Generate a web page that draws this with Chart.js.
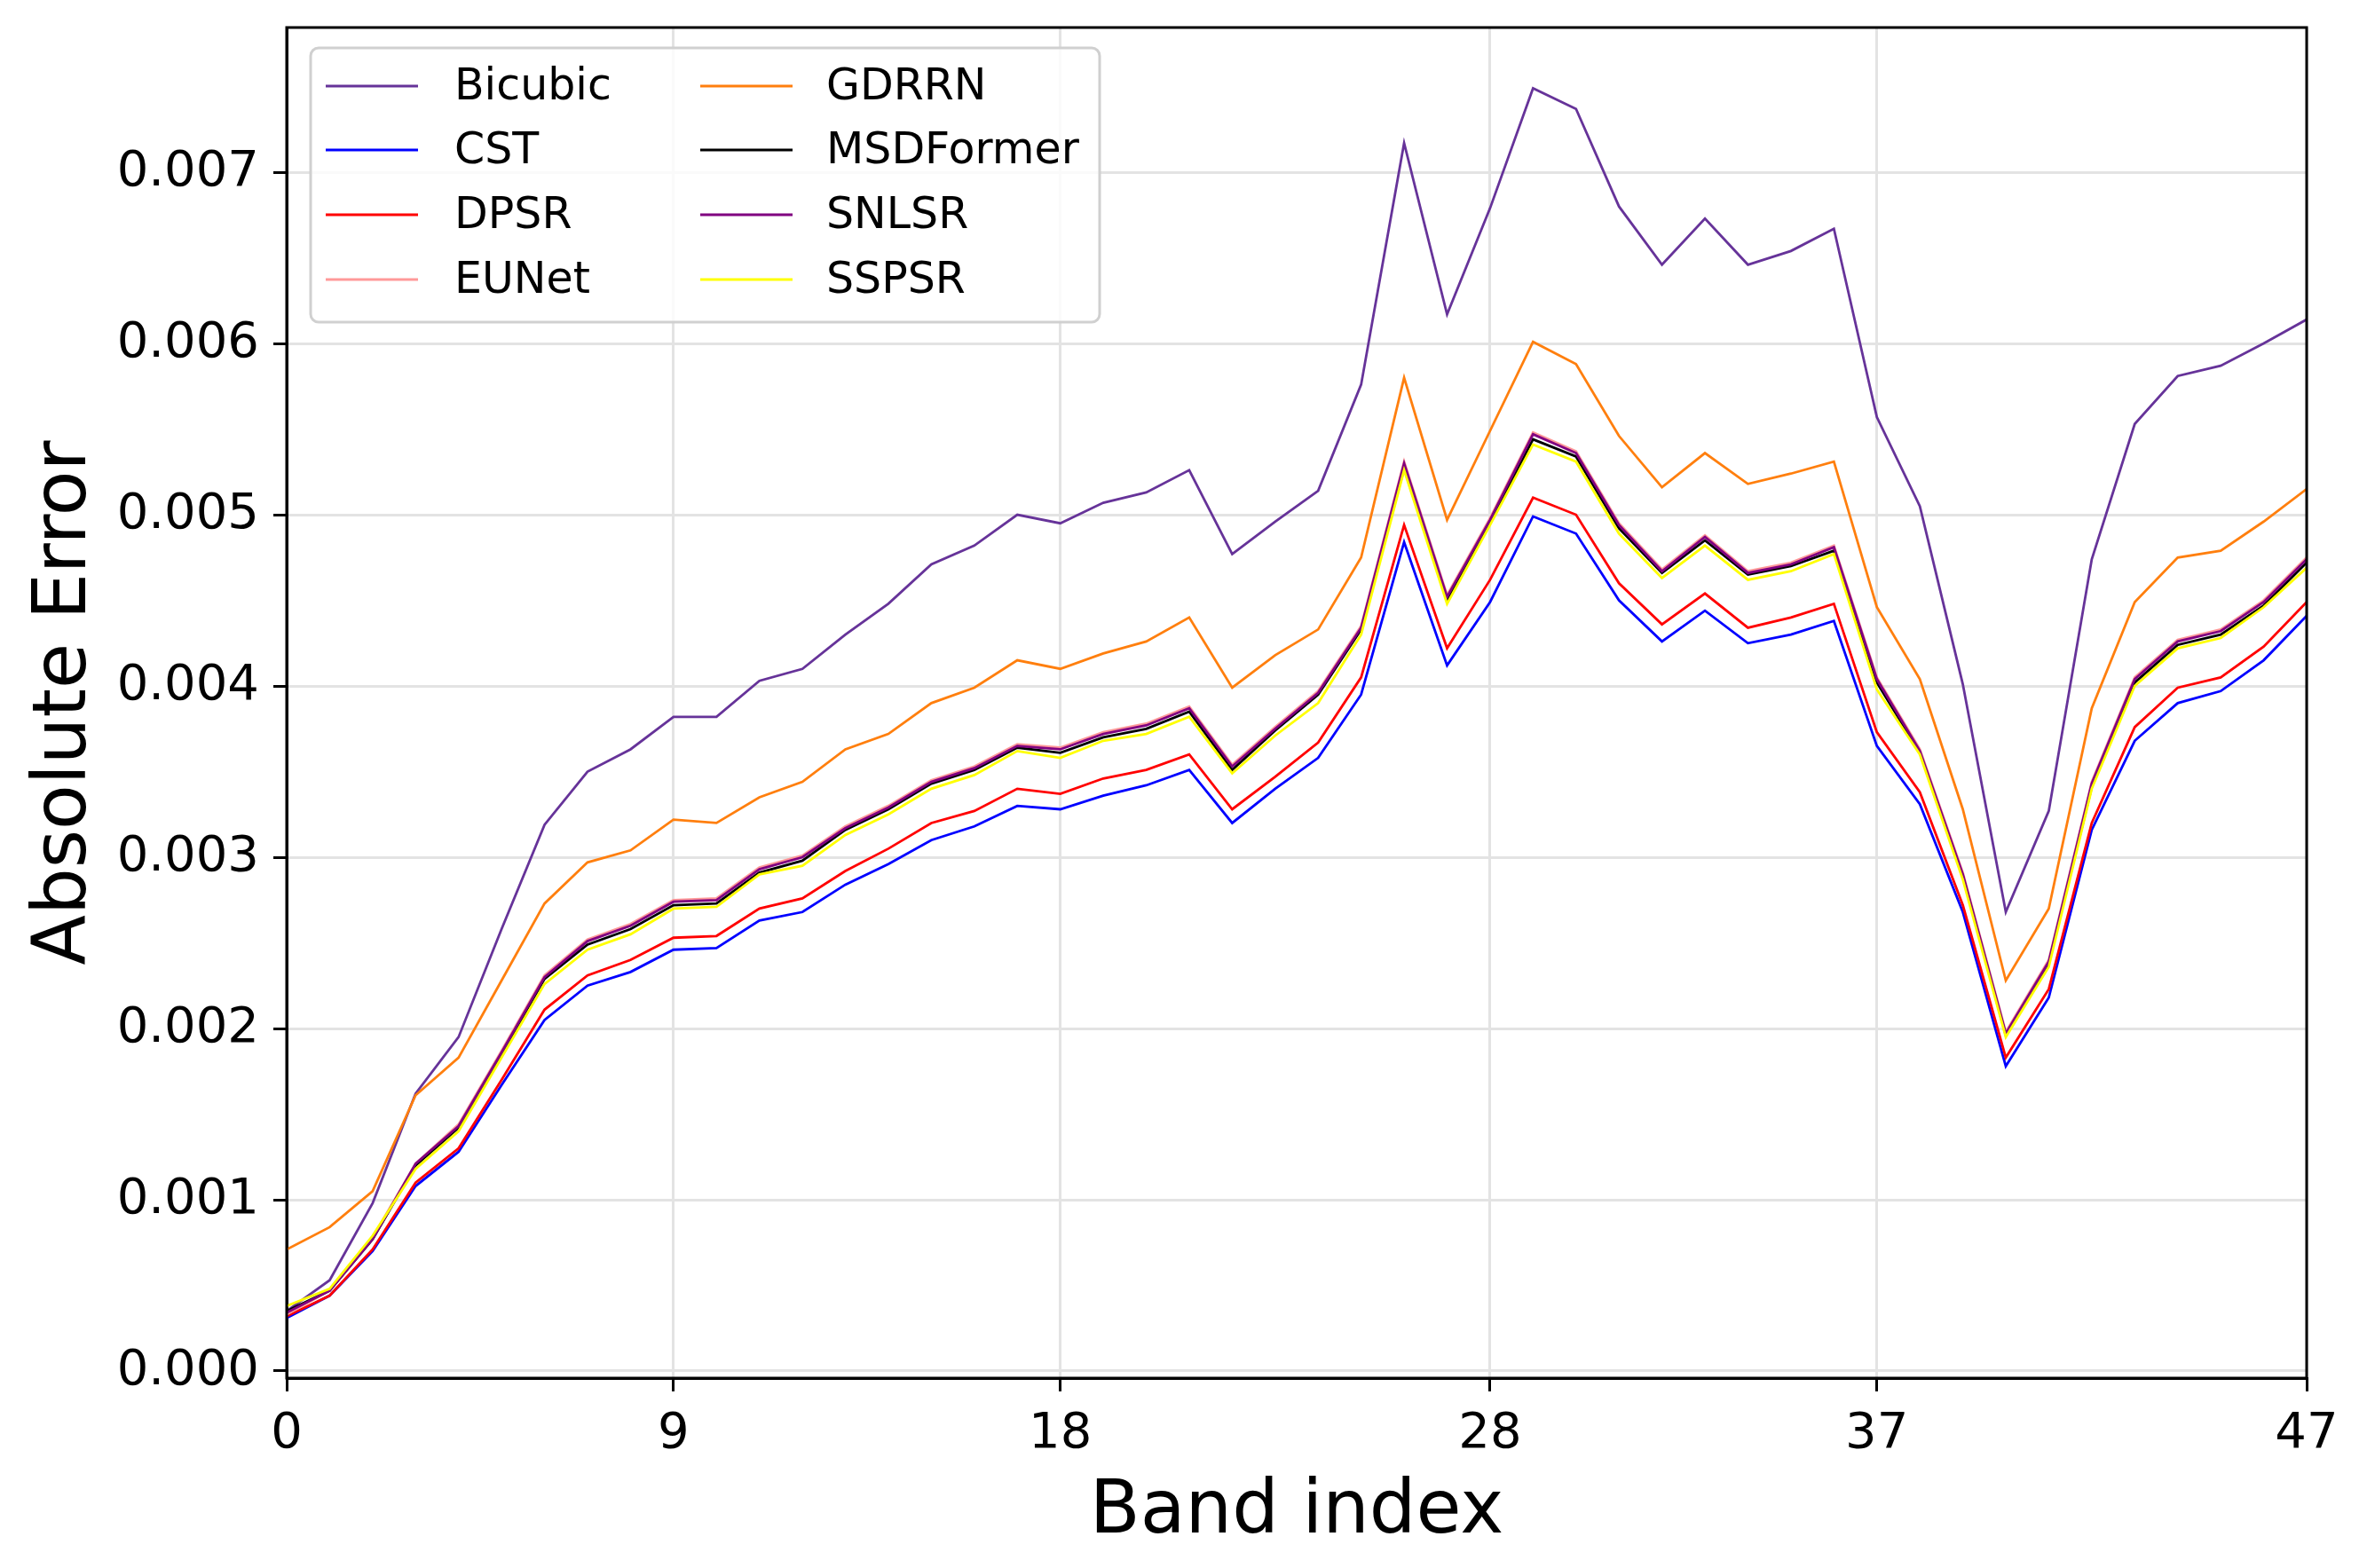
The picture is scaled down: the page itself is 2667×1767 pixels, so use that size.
<!DOCTYPE html>
<html>
<head>
<meta charset="utf-8">
<script src="https://cdn.jsdelivr.net/npm/chart.js@4.4.1/dist/chart.umd.min.js"></script>
<style>
  html, body { margin: 0; padding: 0; background: #fff; }
  #wrap { width: 2667px; height: 1767px; }
</style>
</head>
<body>
<div id="wrap"><canvas id="chart" width="2667" height="1767"></canvas></div>
<script>
const bands = [0,1,2,3,4,5,6,7,8,9,10,11,12,13,14,15,16,17,18,19,20,21,22,23,24,25,26,27,28,29,30,31,32,33,34,35,36,37,38,39,40,41,42,43,44,45,46,47];
const xTicks = [0, 9, 18, 28, 37, 47];
const yTicks = [0, 0.001, 0.002, 0.003, 0.004, 0.005, 0.006, 0.007];

const bicubic = [0.00035, 0.00053, 0.00098, 0.00162, 0.00195, 0.00258, 0.00319, 0.0035, 0.00363, 0.00382, 0.00382, 0.00403, 0.0041, 0.0043, 0.00448, 0.00471, 0.00482, 0.005, 0.00495, 0.00507, 0.00513, 0.00526, 0.00477, 0.00496, 0.00514, 0.00576, 0.00717, 0.00617, 0.00679, 0.00749, 0.00737, 0.0068, 0.00646, 0.00673, 0.00646, 0.00654, 0.00667, 0.00557, 0.00505, 0.00401, 0.00268, 0.00327, 0.00474, 0.00553, 0.00581, 0.00587, 0.006, 0.00614];
const cst = [0.00031, 0.00044, 0.0007, 0.00108, 0.00128, 0.00167, 0.00205, 0.00225, 0.00233, 0.00246, 0.00247, 0.00263, 0.00268, 0.00284, 0.00296, 0.0031, 0.00318, 0.0033, 0.00328, 0.00336, 0.00342, 0.00351, 0.0032, 0.0034, 0.00358, 0.00395, 0.00484, 0.00412, 0.00449, 0.00499, 0.00489, 0.0045, 0.00426, 0.00444, 0.00425, 0.0043, 0.00438, 0.00365, 0.00331, 0.00268, 0.00178, 0.00218, 0.00316, 0.00368, 0.0039, 0.00397, 0.00415, 0.00441];
const dpsr = [0.00032, 0.00044, 0.00071, 0.0011, 0.0013, 0.0017, 0.00211, 0.00231, 0.0024, 0.00253, 0.00254, 0.0027, 0.00276, 0.00292, 0.00305, 0.0032, 0.00327, 0.0034, 0.00337, 0.00346, 0.00351, 0.0036, 0.00328, 0.00347, 0.00367, 0.00405, 0.00494, 0.00422, 0.00462, 0.0051, 0.005, 0.0046, 0.00436, 0.00454, 0.00434, 0.0044, 0.00448, 0.00373, 0.00338, 0.00272, 0.00183, 0.00223, 0.0032, 0.00376, 0.00399, 0.00405, 0.00423, 0.00449];
const eunet = [0.00033, 0.00047, 0.00078, 0.00121, 0.00144, 0.00187, 0.00231, 0.00252, 0.00261, 0.00275, 0.00276, 0.00294, 0.00301, 0.00318, 0.0033, 0.00345, 0.00353, 0.00366, 0.00364, 0.00373, 0.00378, 0.00388, 0.00354, 0.00376, 0.00397, 0.00435, 0.00531, 0.00453, 0.00498, 0.00548, 0.00537, 0.00495, 0.00468, 0.00488, 0.00467, 0.00472, 0.00482, 0.00405, 0.00363, 0.00291, 0.00198, 0.0024, 0.00344, 0.00405, 0.00427, 0.00433, 0.0045, 0.00475];
const gdrrn = [0.00071, 0.00084, 0.00105, 0.00161, 0.00183, 0.00228, 0.00273, 0.00297, 0.00304, 0.00322, 0.0032, 0.00335, 0.00344, 0.00363, 0.00372, 0.0039, 0.00399, 0.00415, 0.0041, 0.00419, 0.00426, 0.0044, 0.00399, 0.00418, 0.00433, 0.00475, 0.0058, 0.00497, 0.00549, 0.00601, 0.00588, 0.00546, 0.00516, 0.00536, 0.00518, 0.00524, 0.00531, 0.00446, 0.00404, 0.00328, 0.00228, 0.0027, 0.00387, 0.00449, 0.00475, 0.00479, 0.00496, 0.00515];
const msdformer = [0.00035, 0.00047, 0.00077, 0.0012, 0.00142, 0.00185, 0.00229, 0.00249, 0.00258, 0.00272, 0.00273, 0.00291, 0.00298, 0.00316, 0.00328, 0.00343, 0.00351, 0.00364, 0.00361, 0.0037, 0.00375, 0.00385, 0.00351, 0.00374, 0.00395, 0.00433, 0.00527, 0.0045, 0.00495, 0.00544, 0.00534, 0.00492, 0.00466, 0.00485, 0.00465, 0.0047, 0.00479, 0.00402, 0.00361, 0.00289, 0.00196, 0.00238, 0.00341, 0.00402, 0.00424, 0.0043, 0.00447, 0.00472];
const snlsr = [0.00034, 0.00047, 0.00077, 0.00121, 0.00143, 0.00186, 0.0023, 0.00251, 0.0026, 0.00274, 0.00275, 0.00293, 0.003, 0.00317, 0.00329, 0.00344, 0.00352, 0.00365, 0.00363, 0.00372, 0.00377, 0.00387, 0.00353, 0.00375, 0.00396, 0.00434, 0.0053, 0.00452, 0.00497, 0.00547, 0.00536, 0.00494, 0.00467, 0.00487, 0.00466, 0.00471, 0.00481, 0.00404, 0.00362, 0.0029, 0.00197, 0.00239, 0.00343, 0.00404, 0.00426, 0.00432, 0.00449, 0.00474];
const sspsr = [0.00038, 0.00048, 0.00079, 0.00118, 0.0014, 0.00183, 0.00226, 0.00246, 0.00255, 0.0027, 0.00271, 0.0029, 0.00295, 0.00313, 0.00325, 0.0034, 0.00348, 0.00362, 0.00358, 0.00368, 0.00372, 0.00382, 0.00349, 0.00371, 0.0039, 0.0043, 0.00526, 0.00448, 0.00494, 0.00541, 0.00531, 0.00489, 0.00463, 0.00482, 0.00462, 0.00467, 0.00477, 0.00398, 0.0036, 0.00287, 0.00195, 0.00236, 0.0034, 0.004, 0.00422, 0.00428, 0.00446, 0.00469];

const methods = ['Bicubic', 'CST', 'DPSR', 'EUNet', 'GDRRN', 'MSDFormer', 'SNLSR', 'SSPSR'];
const series = [bicubic, cst, dpsr, eunet, gdrrn, msdformer, snlsr, sspsr];
const colors = ['#663399', '#0000ff', '#ff0000', '#ff9999', '#ff7f0e', '#000000', '#800080', '#ffff00'];

const FONT = "'DejaVu Sans', sans-serif";
const LINE_W = 2.8;

// later series on top, like matplotlib
const datasets = methods.map((name, i) => ({
  label: name,
  data: bands.map((b, j) => ({ x: b, y: series[i][j] })),
  borderColor: colors[i],
  backgroundColor: colors[i],
  borderWidth: LINE_W,
  pointRadius: 0,
  tension: 0,
  fill: false,
  order: methods.length - 1 - i,
}));

// top/right spines drawn over the lines
const framePlugin = {
  id: 'frame',
  afterDatasetsDraw(chart) {
    const { ctx, chartArea: a } = chart;
    ctx.save();
    ctx.strokeStyle = '#000';
    ctx.lineWidth = 3;
    ctx.strokeRect(a.left, a.top, a.right - a.left, a.bottom - a.top);
    ctx.restore();
  },
};

// matplotlib-style legend: 2 columns, filled column first
const legendPlugin = {
  id: 'mplLegend',
  afterDraw(chart) {
    const { ctx } = chart;
    const box = { x: 350, y: 54, w: 889, h: 309, r: 9 };
    ctx.save();
    ctx.beginPath();
    ctx.roundRect(box.x, box.y, box.w, box.h, box.r);
    ctx.fillStyle = 'rgba(255,255,255,0.8)';
    ctx.fill();
    ctx.lineWidth = 3;
    ctx.strokeStyle = '#d0d0d0';
    ctx.stroke();

    const cols = [{ lx: 367, tx: 512 }, { lx: 789, tx: 931 }];
    const rows = [97, 169, 242, 315];
    ctx.font = '49px ' + FONT;
    ctx.textBaseline = 'middle';
    ctx.fillStyle = '#000';
    methods.forEach((name, i) => {
      const c = cols[Math.floor(i / 4)];
      const y = rows[i % 4];
      ctx.beginPath();
      ctx.moveTo(c.lx, y);
      ctx.lineTo(c.lx + 104, y);
      ctx.strokeStyle = colors[i];
      ctx.lineWidth = 3;
      ctx.stroke();
      ctx.fillText(name, c.tx, y + 2);
    });
    ctx.restore();
  },
};

new Chart(document.getElementById('chart'), {
  type: 'line',
  data: { datasets },
  options: {
    responsive: false,
    devicePixelRatio: 1,
    animation: false,
    layout: { padding: { left: 0, top: 31, right: 68, bottom: 0 } },
    plugins: { legend: { display: false }, tooltip: { enabled: false } },
    scales: {
      x: {
        type: 'linear',
        min: 0,
        max: 47,
        afterBuildTicks: (s) => { s.ticks = xTicks.map((v) => ({ value: v })); },
        afterFit: (s) => { s.height = 214; s.paddingLeft = 0; s.paddingRight = 0; },
        ticks: {
          font: { family: FONT, size: 56 },
          color: '#000',
          padding: 15,
          maxRotation: 0,
          autoSkip: false,
          callback: (v) => String(v),
        },
        grid: { color: '#e3e3e3', lineWidth: 3, tickLength: 15, tickColor: '#000', tickWidth: 3 },
        border: { display: true, color: '#000', width: 3 },
        title: {
          display: true,
          text: 'Band index',
          font: { family: FONT, size: 83 },
          color: '#000',
          padding: { top: 0, bottom: 12 },
        },
      },
      y: {
        type: 'linear',
        min: -0.0000415,
        max: 0.007845,
        afterBuildTicks: (s) => { s.ticks = yTicks.map((v) => ({ value: v })); },
        afterFit: (s) => { s.width = 323; s.paddingTop = 0; s.paddingBottom = 0; },
        ticks: {
          font: { family: FONT, size: 56 },
          color: '#000',
          padding: 16,
          callback: (v) => v.toFixed(3),
        },
        grid: { color: '#e3e3e3', lineWidth: 3, tickLength: 15, tickColor: '#000', tickWidth: 3 },
        border: { display: true, color: '#000', width: 3 },
        title: {
          display: true,
          text: 'Absolute Error',
          font: { family: FONT, size: 83 },
          color: '#000',
          padding: { top: 25, bottom: 0 },
        },
      },
    },
  },
  plugins: [framePlugin, legendPlugin],
});
</script>
</body>
</html>
